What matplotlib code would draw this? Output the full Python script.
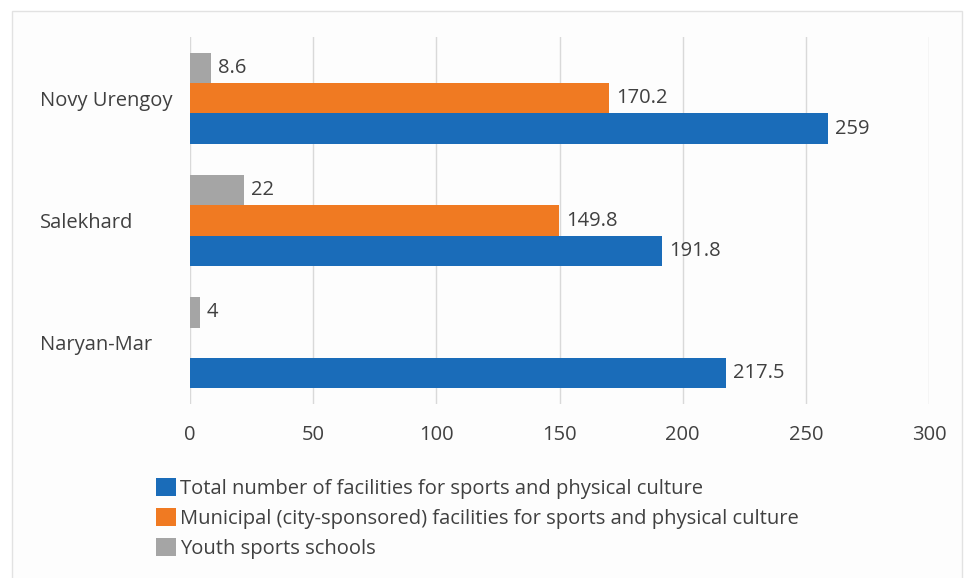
import matplotlib.pyplot as plt
from matplotlib.patches import Rectangle
import numpy as np

# cities, bottom to top as they sit on the axis
cities = ["Naryan-Mar", "Salekhard", "Novy Urengoy"]
total = [217.5, 191.8, 259]
municipal = [None, 149.8, 170.2]
youth = [4, 22, 8.6]

series_names = [
    "Total number of facilities for sports and physical culture",
    "Municipal (city-sponsored) facilities for sports and physical culture",
    "Youth sports schools",
]
colors = ["#1a6cb9", "#f07a22", "#a5a5a5"]
x_ticks = [0, 50, 100, 150, 200, 250, 300]

plt.rcParams["font.family"] = ["Open Sans", "DejaVu Sans"]
text_color = "#404040"
fs = 14.5

fig = plt.figure(figsize=(9.68, 5.78), dpi=100)
fig.patch.set_facecolor("white")
# light frame round the chart area
frame = Rectangle((12 / 968, -0.01), 950 / 968, 1 - 11 / 578 + 0.01,
                  transform=fig.transFigure, facecolor="#fdfdfd",
                  edgecolor="#e2e2e2", linewidth=1, zorder=-5)
fig.patches.append(frame)

ax = fig.add_axes([190 / 968, 1 - 404 / 578, 739 / 968, 367 / 578])
ax.set_facecolor("none")

y = np.arange(len(cities))
h = 0.248
offsets = [-h, 0, h]
data = [total, municipal, youth]

for vals, off, col, name in zip(data, offsets, colors, series_names):
    vv = [np.nan if v is None else v for v in vals]
    bars = ax.barh(y + off, vv, height=h, color=col, label=name, zorder=3)
    for b, v in zip(bars, vals):
        if v is None:
            continue
        ax.text(v + 2.8, b.get_y() + b.get_height() / 2, f"{v:g}",
                va="center", ha="left", fontsize=fs, color=text_color)

ax.set_xlim(0, 300)
ax.set_ylim(-0.5, len(cities) - 0.5)
ax.set_xticks(x_ticks)
ax.set_xticklabels([str(t) for t in x_ticks])
ax.set_yticks(y)
ax.set_yticklabels(cities)
for lab in ax.get_yticklabels():
    lab.set_ha("left")
ax.tick_params(axis="y", length=0, pad=108, labelsize=fs, labelcolor=text_color)
ax.tick_params(axis="x", length=0, pad=15, labelsize=fs, labelcolor=text_color)
ax.grid(axis="x", color="#d9d9d9", linewidth=1, zorder=0)
for s in ax.spines.values():
    s.set_visible(False)

leg = fig.legend(loc="upper left", bbox_to_anchor=(156 / 968, 1 - 478 / 578),
                 frameon=False, fontsize=fs, handlelength=1.0, handleheight=1.0,
                 handletextpad=0.2, labelspacing=0.45, borderaxespad=0,
                 borderpad=0)
for t in leg.get_texts():
    t.set_color(text_color)

plt.savefig("out.png", dpi=100, facecolor=fig.get_facecolor())
plt.close(fig)
